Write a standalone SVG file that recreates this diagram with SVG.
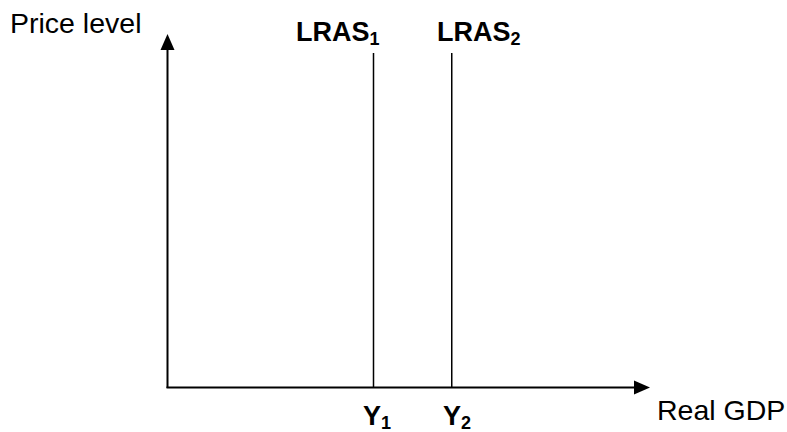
<svg xmlns="http://www.w3.org/2000/svg" width="787" height="432" viewBox="0 0 787 432">
<style>
.t{font-family:"Liberation Sans",Arial,sans-serif;font-size:28.5px;fill:#000}
.b{font-family:"Liberation Sans",Arial,sans-serif;font-size:27px;font-weight:bold;fill:#000}
.s{font-size:18px}
.ax{stroke:#000;stroke-width:2;fill:none}
.ln{stroke:#000;stroke-width:1.5;fill:none}
</style>
<rect width="787" height="432" fill="#fff"/>
<g id="connectors">
<line class="ax" x1="167.5" y1="388" x2="167.5" y2="48"/>
<polygon points="167.5,34 160.5,50 174.5,50" fill="#000"/>
<line class="ax" x1="166.5" y1="387.5" x2="636" y2="387.5"/>
<polygon points="650,387.5 634,380.5 634,394.5" fill="#000"/>
</g>
<g id="lras1">
<line class="ln" x1="373.5" y1="53" x2="373.5" y2="387"/>
<text class="b" x="296" y="41">LRAS<tspan class="s" dy="4">1</tspan></text>
</g>
<g id="lras2">
<line class="ln" x1="451.75" y1="53" x2="451.75" y2="387"/>
<text class="b" x="437" y="41">LRAS<tspan class="s" dy="4">2</tspan></text>
</g>
<g id="labels">
<text class="t" x="10" y="33">Price level</text>
<text class="t" x="657" y="420">Real GDP</text>
<text class="b" x="363" y="425">Y<tspan class="s" dy="4">1</tspan></text>
<text class="b" x="443" y="425">Y<tspan class="s" dy="4">2</tspan></text>
</g>
</svg>
